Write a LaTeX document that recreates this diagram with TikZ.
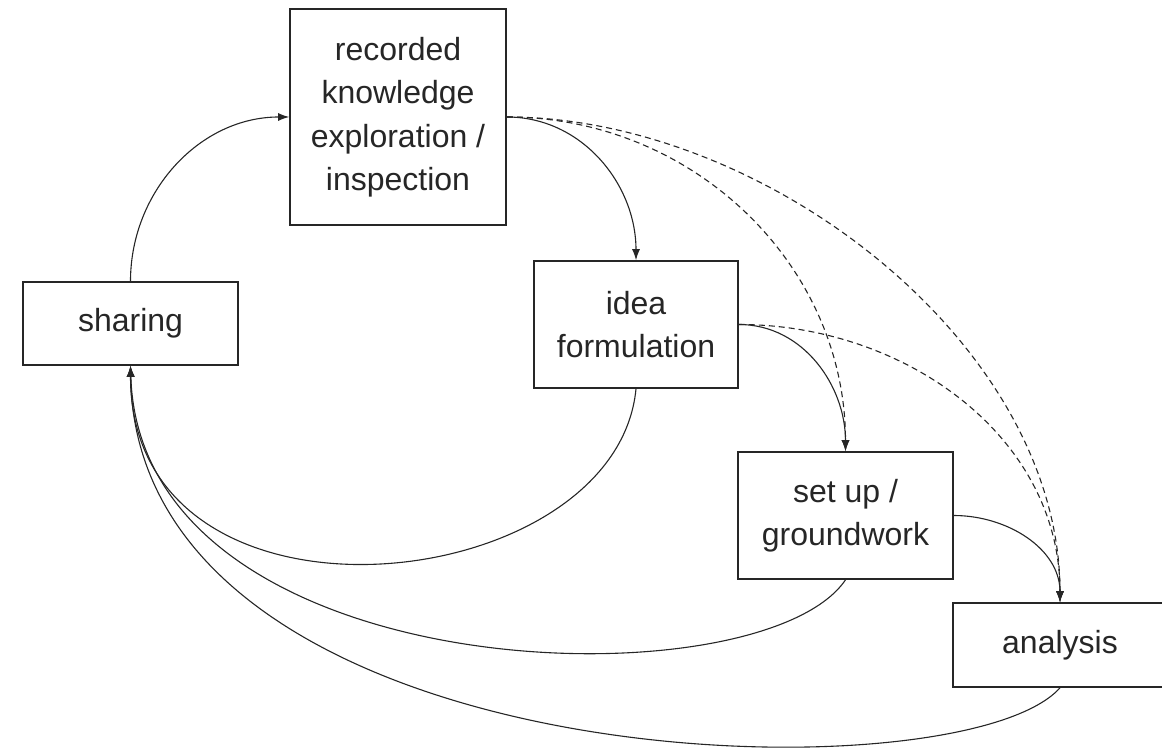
\documentclass[tikz,border=0pt]{standalone}
\usepackage{fontspec}
\setmainfont{Liberation Sans}
\usetikzlibrary{arrows.meta,positioning}
\tikzset{
    stage/.style={draw, line width=1.6pt, inner sep=0pt, align=center,
        font=\fontsize{32}{43.5}\selectfont},
    link/.style={line width=1.1pt, -{Latex[length=11pt,width=8pt]}},
    hint/.style={link, dash pattern=on 6pt off 4pt}
}

\begin{document}
\begin{tikzpicture}[x=1pt,y=1pt,color=black!85]
    \useasboundingbox (0,0) rectangle (1162,748);

    % Draw the stages.
    \node[stage, minimum width=216pt, minimum height=216pt] (record) at (398,631)
        {recorded\\knowledge\\exploration /\\inspection};
    \node[stage, minimum width=215pt, minimum height=83pt] (share) at (130.5,424.5) {sharing};
    \node[stage, minimum width=204pt, minimum height=127pt] (idea) at (636,423.5)
        {idea\\formulation};
    \node[stage, minimum width=215pt, minimum height=127pt] (setup) at (845.5,232.5)
        {set up /\\groundwork};
    \node[stage, minimum width=214pt, minimum height=84pt] (analysis) at (1060,103) {analysis};

    % Forward links.
    \draw[link] (share.north) to[out=90,in=180] (record.west);
    \draw[link] (record.east) to[out=0,in=90] (idea.north);
    \draw[link] (idea.east) to[out=0,in=90] (setup.north);
    \draw[link] (setup.east) to[out=0,in=90] (analysis.north);

    % Skipping links.
    \draw[hint] (record.east) to[out=0,in=90] (setup.north);
    \draw[hint] (record.east) to[out=0,in=90,looseness=0.9] (analysis.north);
    \draw[hint] (idea.east) to[out=0,in=90] (analysis.north);

    % Links back to sharing.
    \draw[link] (idea.south) .. controls +(-20,-210) and +(0,-285) .. (share.south);
    \draw[link] (setup.south) .. controls +(-85,-126) and +(10,-325) .. (share.south);
    \draw[link] (analysis.south) .. controls +(-100,-113) and +(5,-415) .. (share.south);
\end{tikzpicture}
\end{document}
